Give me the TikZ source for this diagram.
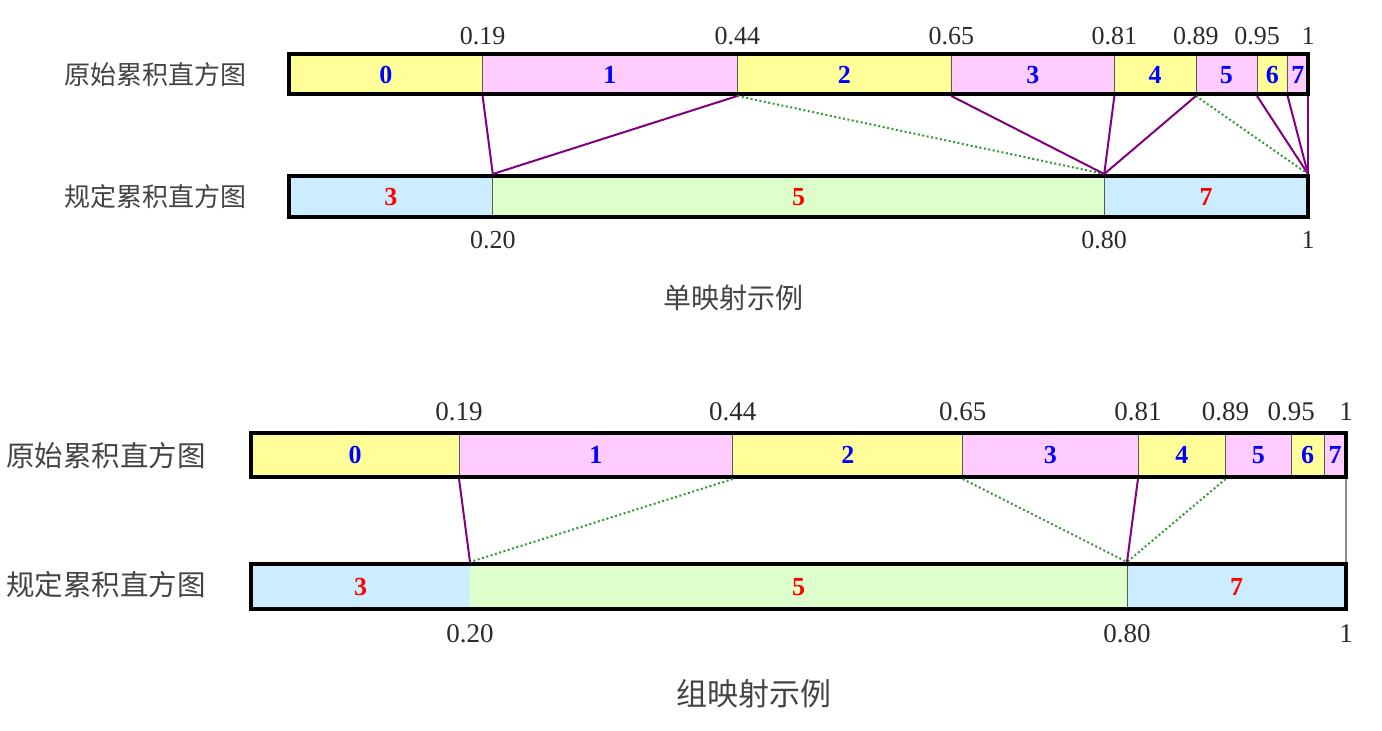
\documentclass[tikz,border=0pt]{standalone}
\usepackage{fontspec}
\setmainfont{Liberation Serif}
\newfontfamily\cjk{Noto Sans CJK SC}
\definecolor{cyel}{HTML}{FFFF99}
\definecolor{cpink}{HTML}{FFCCFF}
\definecolor{cblue}{HTML}{CCECFF}
\definecolor{cgreen}{HTML}{DDFFCC}
\definecolor{cpurple}{HTML}{800080}
\definecolor{cdot}{HTML}{339933}
\definecolor{ctxt}{HTML}{2A2A2A}
\definecolor{czh}{HTML}{444444}
\begin{document}
\begin{tikzpicture}[x=1pt,y=-1pt,
  cell/.style={draw=black!65, line width=0.8pt},
  frame/.style={draw=black, line width=4pt},
  num/.style={font=\fontsize{26}{26}\selectfont\bfseries, text=blue, inner sep=0pt},
  rnum/.style={font=\fontsize{26}{26}\selectfont\bfseries, text=red, inner sep=0pt},
  tick/.style={font=\fontsize{26}{26}\selectfont, text=ctxt, inner sep=0pt},
  tickb/.style={font=\fontsize{27}{27}\selectfont, text=ctxt, inner sep=0pt},
  zh/.style={font=\cjk\fontsize{26}{26}\selectfont, text=czh, inner sep=0pt},
  zhb/.style={font=\cjk\fontsize{28.5}{28.5}\selectfont, text=czh, inner sep=0pt},
  map/.style={draw=cpurple, line width=2pt},
  alt/.style={draw=cdot, line width=2pt, dash pattern=on 2pt off 2.5pt},
  thin/.style={draw=black!45, line width=1.5pt},
]
\useasboundingbox (0,0) rectangle (1382,731);

% ================= top diagram: single mapping =================
% original cumulative histogram
\foreach \s/\e/\c/\t [count=\i] in {0/0.19/cyel/0,0.19/0.44/cpink/1,0.44/0.65/cyel/2,0.65/0.81/cpink/3,0.81/0.89/cyel/4,0.89/0.95/cpink/5,0.95/0.98/cyel/6,0.98/1/cpink/7}{
  \path[cell, fill=\c] (289+\s*1019,54) rectangle (289+\e*1019,94);
  \node[num] (ac\i) at (289+\s*509.5+\e*509.5,75) {\t};
}
\draw[frame] (289,54) rectangle (1308,94);
% specified cumulative histogram
\foreach \s/\e/\c/\t [count=\i] in {0/0.20/cblue/3,0.20/0.80/cgreen/5,0.80/1/cblue/7}{
  \path[cell, fill=\c] (289+\s*1019,176) rectangle (289+\e*1019,217);
  \node[rnum] (bc\i) at (289+\s*509.5+\e*509.5,197) {\t};
}
\draw[frame] (289,176) rectangle (1308,217);
% tick labels
\foreach \v/\t [count=\i] in {0.19/0.19,0.44/0.44,0.65/0.65,0.81/0.81,0.89/0.89,0.95/0.95,1/1}
  \node[tick] (at-l\i) at (289+\v*1019,36) {\t};
\foreach \v/\t [count=\i] in {0.20/0.20,0.80/0.80,1/1}
  \node[tick] (ab-l\i) at (289+\v*1019,240) {\t};
\node[zh] (azh1) at (155,75) {原始累积直方图};
\node[zh] (azh2) at (155,197) {规定累积直方图};
\node[zh, font=\cjk\fontsize{28}{28}\selectfont] (acap) at (733,298) {单映射示例};
% connector end points
\foreach \v/\n in {0.19/19,0.44/44,0.65/65,0.81/81,0.89/89,0.95/95,0.98/98,1/100}
  \coordinate (at\n) at (289+\v*1019,96);
\foreach \v/\n in {0.20/20,0.80/80,1/100}
  \coordinate (ab\n) at (289+\v*1019,174);
\draw[alt] (at44) -- (ab80);
\draw[alt] (at89) -- (ab100);
\draw[map] (at19) -- (ab20);
\draw[map] (at44) -- (ab20);
\draw[map] (at65) -- (ab80);
\draw[map] (at81) -- (ab80);
\draw[map] (at89) -- (ab80);
\draw[map] (at95) -- (ab100);
\draw[map] (at98) -- (ab100);
\draw[map] (at100) -- (ab100);

% ================= bottom diagram: group mapping =================
\foreach \s/\e/\c/\t [count=\i] in {0/0.19/cyel/0,0.19/0.44/cpink/1,0.44/0.65/cyel/2,0.65/0.81/cpink/3,0.81/0.89/cyel/4,0.89/0.95/cpink/5,0.95/0.98/cyel/6,0.98/1/cpink/7}{
  \path[cell, fill=\c] (251+\s*1095,433) rectangle (251+\e*1095,477);
  \node[num] (cc\i) at (251+\s*547.5+\e*547.5,455) {\t};
}
\draw[frame] (251,433) rectangle (1346,477);
\foreach \s/\e/\c/\t [count=\i] in {0/0.20/cblue/3,0.20/0.80/cgreen/5,0.80/1/cblue/7}{
  \path[cell, fill=\c, draw=none] (251+\s*1095,564) rectangle (251+\e*1095,609);
  \node[rnum] (dc\i) at (251+\s*547.5+\e*547.5,587) {\t};
}
\draw[cell] (251+0.80*1095,564) -- (251+0.80*1095,609);
\draw[frame] (251,564) rectangle (1346,609);
\foreach \v/\t [count=\i] in {0.19/0.19,0.44/0.44,0.65/0.65,0.81/0.81,0.89/0.89,0.95/0.95,1/1}
  \node[tickb] (ct-l\i) at (251+\v*1095,412) {\t};
\foreach \v/\t [count=\i] in {0.20/0.20,0.80/0.80,1/1}
  \node[tickb] (cb-l\i) at (251+\v*1095,634) {\t};
\node[zhb] (czh1) at (106,456) {原始累积直方图};
\node[zhb] (czh2) at (106,585) {规定累积直方图};
\node[zhb, font=\cjk\fontsize{31}{31}\selectfont] (ccap) at (754,694) {组映射示例};
\foreach \v/\n in {0.19/19,0.44/44,0.65/65,0.81/81,0.89/89,1/100}
  \coordinate (ct\n) at (251+\v*1095,479);
\foreach \v/\n in {0.20/20,0.80/80,1/100}
  \coordinate (cb\n) at (251+\v*1095,562);
\draw[alt] (ct44) -- (cb20);
\draw[alt] (ct65) -- (cb80);
\draw[alt] (ct89) -- (cb80);
\draw[thin] (ct100) -- (cb100);
\draw[map] (ct19) -- (cb20);
\draw[map] (ct81) -- (cb80);
\end{tikzpicture}
\end{document}
